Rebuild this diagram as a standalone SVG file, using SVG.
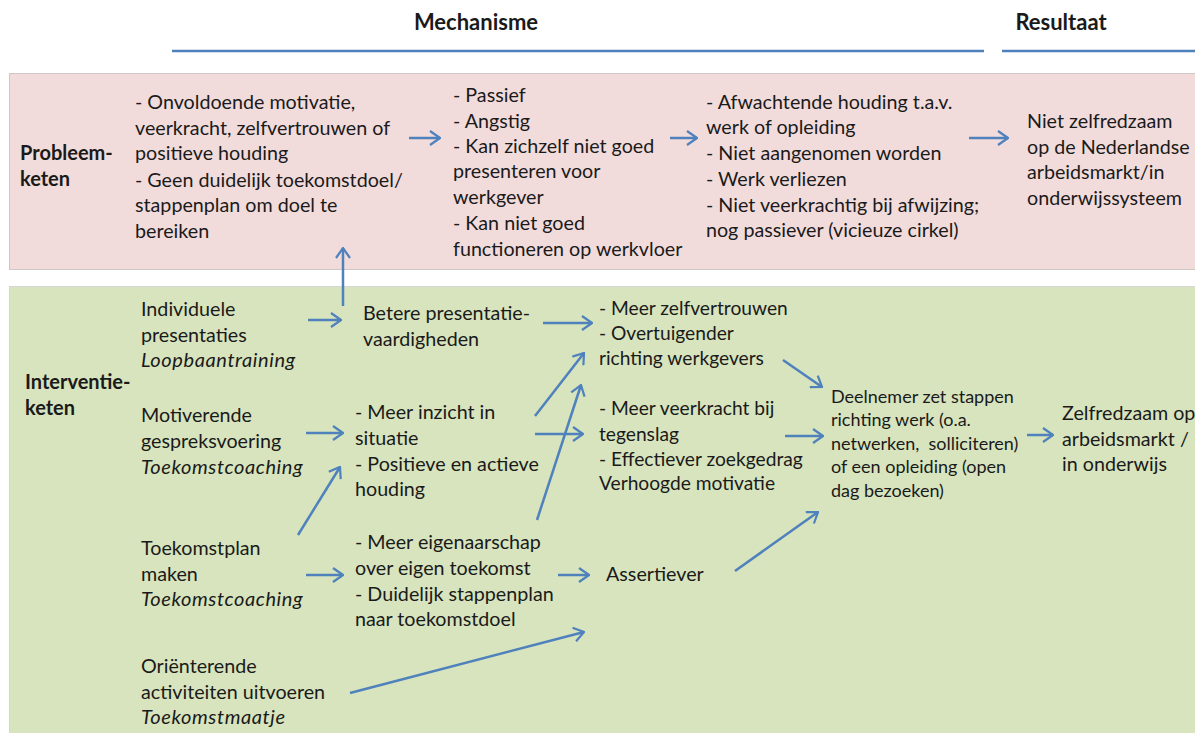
<svg xmlns="http://www.w3.org/2000/svg" width="1195" height="733" viewBox="0 0 1195 733">
<defs>
<marker id="ah" viewBox="0 0 12 16" refX="11" refY="8" markerWidth="12" markerHeight="16" markerUnits="userSpaceOnUse" orient="auto">
<path d="M1,1 L11,8 L1,15" fill="none" stroke="#4f81bd" stroke-width="2.2"/>
</marker>
<style>
text{font-family:Lato,"Liberation Sans",sans-serif;font-size:19.7px;fill:#1a1a1a}
.b{font-weight:bold;font-size:20px}
.i{font-style:italic;font-size:20px;letter-spacing:0.6px}
.s{font-size:18px}
.n{font-size:19.2px}
.hd{font-size:22px;font-weight:bold}
.ln{stroke:#4f81bd;stroke-width:2.5;fill:none}
.c{stroke:#4f81bd;stroke-width:2.5;fill:none;marker-end:url(#ah)}
</style>
</defs>
<rect width="1195" height="733" fill="#ffffff"/>
<g id="header">
<text class="hd" x="476" y="30" text-anchor="middle">Mechanisme</text>
<text class="hd" x="1061" y="30" text-anchor="middle">Resultaat</text>
<line class="ln" x1="172" y1="51" x2="984" y2="51"/>
<line class="ln" x1="1002" y1="51" x2="1195" y2="51"/>
</g>
<g id="bands">
<rect x="9.5" y="73.5" width="1190" height="196" fill="#f2dcdb" stroke="#cfc6c6" stroke-width="1"/>
<rect x="9.5" y="286.5" width="1190" height="450" fill="#d7e4bd" stroke="#d6d6d6" stroke-width="1"/>
</g>
<g id="probleem-label">
<text class="b" x="20" y="160">Probleem-</text>
<text class="b" x="20" y="186">keten</text>
</g>
<g id="p1">
<text x="135" y="109">- Onvoldoende motivatie,</text>
<text x="135" y="135">veerkracht, zelfvertrouwen of</text>
<text x="135" y="160">positieve houding</text>
<text x="135" y="187">- Geen duidelijk toekomstdoel/</text>
<text x="135" y="212">stappenplan om doel te</text>
<text x="135" y="238">bereiken</text>
</g>
<g id="p2">
<text x="453" y="102">- Passief</text>
<text x="453" y="128">- Angstig</text>
<text x="453" y="153">- Kan zichzelf niet goed</text>
<text x="453" y="178">presenteren voor</text>
<text x="453" y="204">werkgever</text>
<text x="453" y="230">- Kan niet goed</text>
<text x="453" y="256">functioneren op werkvloer</text>
</g>
<g id="p3">
<text x="706" y="109">- Afwachtende houding t.a.v.</text>
<text x="706" y="134">werk of opleiding</text>
<text x="706" y="160">- Niet aangenomen worden</text>
<text x="706" y="186">- Werk verliezen</text>
<text x="706" y="212">- Niet veerkrachtig bij afwijzing;</text>
<text x="706" y="237">nog passiever (vicieuze cirkel)</text>
</g>
<g id="p4">
<text x="1027" y="128">Niet zelfredzaam</text>
<text x="1027" y="154">op de Nederlandse</text>
<text x="1027" y="179">arbeidsmarkt/in</text>
<text x="1027" y="205">onderwijssysteem</text>
</g>
<g id="interventie-label">
<text class="b" x="25" y="389">Interventie-</text>
<text class="b" x="25" y="415">keten</text>
</g>
<g id="i1">
<text x="141" y="316">Individuele</text>
<text x="141" y="342">presentaties</text>
<text class="i" x="141" y="367">Loopbaantraining</text>
</g>
<g id="i2">
<text x="141" y="422">Motiverende</text>
<text x="141" y="448">gespreksvoering</text>
<text class="i" x="141" y="474">Toekomstcoaching</text>
</g>
<g id="i3">
<text x="141" y="555">Toekomstplan</text>
<text x="141" y="581">maken</text>
<text class="i" x="141" y="606">Toekomstcoaching</text>
</g>
<g id="i4">
<text x="141" y="673">Oriënterende</text>
<text x="141" y="699">activiteiten uitvoeren</text>
<text class="i" x="141" y="724">Toekomstmaatje</text>
</g>
<g id="m1">
<text x="363" y="320">Betere presentatie-</text>
<text x="363" y="346">vaardigheden</text>
</g>
<g id="m2">
<text x="355" y="419">- Meer inzicht in</text>
<text x="355" y="445">situatie</text>
<text x="355" y="471">- Positieve en actieve</text>
<text x="355" y="496">houding</text>
</g>
<g id="m3">
<text x="355" y="549">- Meer eigenaarschap</text>
<text x="355" y="575">over eigen toekomst</text>
<text x="355" y="601">- Duidelijk stappenplan</text>
<text x="355" y="626">naar toekomstdoel</text>
</g>
<g id="n1">
<text class="n" x="599" y="315">- Meer zelfvertrouwen</text>
<text class="n" x="599" y="340">- Overtuigender</text>
<text class="n" x="599" y="365">richting werkgevers</text>
</g>
<g id="n2">
<text class="n" x="599" y="415">- Meer veerkracht bij</text>
<text class="n" x="599" y="441">tegenslag</text>
<text class="n" x="599" y="466">- Effectiever zoekgedrag</text>
<text class="n" x="599" y="490">Verhoogde motivatie</text>
</g>
<g id="n3">
<text x="606" y="581">Assertiever</text>
</g>
<g id="d1">
<text class="s" x="831" y="403">Deelnemer zet stappen</text>
<text class="s" x="831" y="426">richting werk (o.a.</text>
<text class="s" x="831" y="450" xml:space="preserve">netwerken,  solliciteren)</text>
<text class="s" x="831" y="473">of een opleiding (open</text>
<text class="s" x="831" y="497">dag bezoeken)</text>
</g>
<g id="r1">
<text x="1062" y="420">Zelfredzaam op</text>
<text x="1062" y="446">arbeidsmarkt /</text>
<text x="1062" y="471">in onderwijs</text>
</g>
<g id="connectors">
<line class="c" x1="409" y1="138" x2="440" y2="138"/>
<line class="c" x1="670" y1="138" x2="697" y2="138"/>
<line class="c" x1="969" y1="138" x2="1008" y2="138"/>
<line class="c" x1="343" y1="306" x2="343" y2="248"/>
<line class="c" x1="308" y1="320" x2="341" y2="320"/>
<line class="c" x1="543" y1="323" x2="592" y2="323"/>
<line class="c" x1="306" y1="433" x2="343" y2="433"/>
<line class="c" x1="298" y1="535" x2="340" y2="467"/>
<line class="c" x1="306" y1="575" x2="343" y2="575"/>
<line class="c" x1="535" y1="416" x2="584" y2="353"/>
<line class="c" x1="537" y1="520" x2="581" y2="385"/>
<line class="c" x1="535" y1="434" x2="583" y2="434"/>
<line class="c" x1="558" y1="575" x2="589" y2="575"/>
<line class="c" x1="350" y1="693" x2="584" y2="632"/>
<line class="c" x1="783" y1="360" x2="822" y2="387"/>
<line class="c" x1="785" y1="436" x2="823" y2="436"/>
<line class="c" x1="735" y1="571" x2="818" y2="512"/>
<line class="c" x1="1027" y1="435" x2="1053" y2="435"/>
</g>
</svg>
